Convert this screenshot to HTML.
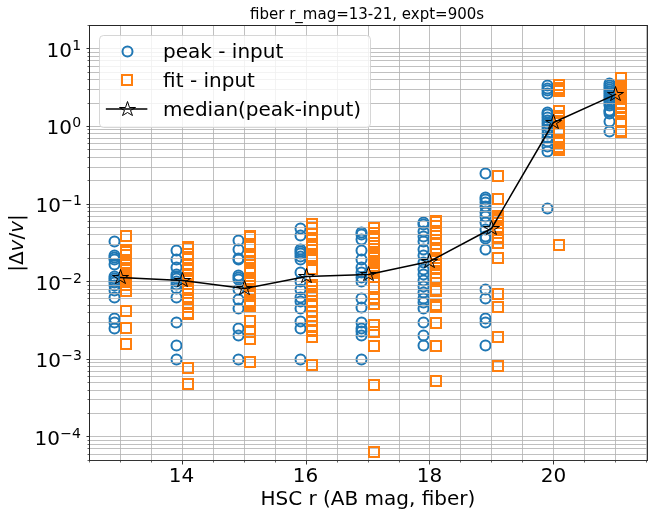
<!DOCTYPE html>
<html lang="en"><head><meta charset="utf-8"><title>fiber r_mag=13-21, expt=900s</title>
<style>html,body{margin:0;padding:0;background:#fff}body{width:653px;height:516px;overflow:hidden}svg text{white-space:pre}</style>
</head><body>
<svg width="653" height="516" viewBox="0 0 653 516" style="display:block" font-family="'DejaVu Sans','Liberation Sans',sans-serif">
<rect width="653" height="516" fill="#fff"/>
<g fill="none" stroke="#1f77b4" stroke-width="2">
<circle cx="114.5" cy="241.5" r="5"/>
<circle cx="114.5" cy="255.5" r="5"/>
<circle cx="114.5" cy="257.5" r="5"/>
<circle cx="114.5" cy="259.5" r="5"/>
<circle cx="114.5" cy="264.5" r="5"/>
<circle cx="114.5" cy="276.5" r="5"/>
<circle cx="114.5" cy="278.5" r="5"/>
<circle cx="114.5" cy="280.5" r="5"/>
<circle cx="114.5" cy="282.5" r="5"/>
<circle cx="114.5" cy="285.5" r="5"/>
<circle cx="114.5" cy="290.5" r="5"/>
<circle cx="114.5" cy="297.5" r="5"/>
<circle cx="114.5" cy="318.5" r="5"/>
<circle cx="114.5" cy="322.5" r="5"/>
<circle cx="114.5" cy="328.5" r="5"/>
<circle cx="176.5" cy="250.5" r="5"/>
<circle cx="176.5" cy="259.5" r="5"/>
<circle cx="176.5" cy="267.5" r="5"/>
<circle cx="176.5" cy="274.5" r="5"/>
<circle cx="176.5" cy="276.5" r="5"/>
<circle cx="176.5" cy="278.5" r="5"/>
<circle cx="176.5" cy="281.5" r="5"/>
<circle cx="176.5" cy="284.5" r="5"/>
<circle cx="176.5" cy="288.5" r="5"/>
<circle cx="176.5" cy="297.5" r="5"/>
<circle cx="176.5" cy="322.5" r="5"/>
<circle cx="176.5" cy="345.5" r="5"/>
<circle cx="176.5" cy="359.5" r="5"/>
<circle cx="238.5" cy="240.5" r="5"/>
<circle cx="238.5" cy="249.5" r="5"/>
<circle cx="238.5" cy="258.5" r="5"/>
<circle cx="238.5" cy="259.5" r="5"/>
<circle cx="238.5" cy="275.5" r="5"/>
<circle cx="238.5" cy="277.5" r="5"/>
<circle cx="238.5" cy="279.5" r="5"/>
<circle cx="238.5" cy="289.5" r="5"/>
<circle cx="238.5" cy="299.5" r="5"/>
<circle cx="238.5" cy="308.5" r="5"/>
<circle cx="238.5" cy="328.5" r="5"/>
<circle cx="238.5" cy="335.5" r="5"/>
<circle cx="238.5" cy="359.5" r="5"/>
<circle cx="300.5" cy="228.5" r="5"/>
<circle cx="300.5" cy="235.5" r="5"/>
<circle cx="300.5" cy="249.5" r="5"/>
<circle cx="300.5" cy="251.5" r="5"/>
<circle cx="300.5" cy="253.5" r="5"/>
<circle cx="300.5" cy="256.5" r="5"/>
<circle cx="300.5" cy="259.5" r="5"/>
<circle cx="300.5" cy="272.5" r="5"/>
<circle cx="300.5" cy="281.5" r="5"/>
<circle cx="300.5" cy="289.5" r="5"/>
<circle cx="300.5" cy="297.5" r="5"/>
<circle cx="300.5" cy="301.5" r="5"/>
<circle cx="300.5" cy="308.5" r="5"/>
<circle cx="300.5" cy="321.5" r="5"/>
<circle cx="300.5" cy="328.5" r="5"/>
<circle cx="300.5" cy="359.5" r="5"/>
<circle cx="361.5" cy="232.5" r="5"/>
<circle cx="361.5" cy="234.5" r="5"/>
<circle cx="361.5" cy="239.5" r="5"/>
<circle cx="361.5" cy="250.5" r="5"/>
<circle cx="361.5" cy="259.5" r="5"/>
<circle cx="361.5" cy="267.5" r="5"/>
<circle cx="361.5" cy="272.5" r="5"/>
<circle cx="361.5" cy="277.5" r="5"/>
<circle cx="361.5" cy="281.5" r="5"/>
<circle cx="361.5" cy="298.5" r="5"/>
<circle cx="361.5" cy="307.5" r="5"/>
<circle cx="361.5" cy="322.5" r="5"/>
<circle cx="361.5" cy="328.5" r="5"/>
<circle cx="361.5" cy="331.5" r="5"/>
<circle cx="361.5" cy="335.5" r="5"/>
<circle cx="361.5" cy="359.5" r="5"/>
<circle cx="423.5" cy="222.5" r="5"/>
<circle cx="423.5" cy="224.5" r="5"/>
<circle cx="423.5" cy="231.5" r="5"/>
<circle cx="423.5" cy="236.5" r="5"/>
<circle cx="423.5" cy="241.5" r="5"/>
<circle cx="423.5" cy="249.5" r="5"/>
<circle cx="423.5" cy="255.5" r="5"/>
<circle cx="423.5" cy="262.5" r="5"/>
<circle cx="423.5" cy="269.5" r="5"/>
<circle cx="423.5" cy="274.5" r="5"/>
<circle cx="423.5" cy="280.5" r="5"/>
<circle cx="423.5" cy="286.5" r="5"/>
<circle cx="423.5" cy="292.5" r="5"/>
<circle cx="423.5" cy="298.5" r="5"/>
<circle cx="423.5" cy="302.5" r="5"/>
<circle cx="423.5" cy="308.5" r="5"/>
<circle cx="423.5" cy="322.5" r="5"/>
<circle cx="423.5" cy="335.5" r="5"/>
<circle cx="423.5" cy="345.5" r="5"/>
<circle cx="485.5" cy="173.5" r="5"/>
<circle cx="485.5" cy="197.5" r="5"/>
<circle cx="485.5" cy="199.5" r="5"/>
<circle cx="485.5" cy="202.5" r="5"/>
<circle cx="485.5" cy="206.5" r="5"/>
<circle cx="485.5" cy="212.5" r="5"/>
<circle cx="485.5" cy="216.5" r="5"/>
<circle cx="485.5" cy="222.5" r="5"/>
<circle cx="485.5" cy="229.5" r="5"/>
<circle cx="485.5" cy="236.5" r="5"/>
<circle cx="485.5" cy="238.5" r="5"/>
<circle cx="485.5" cy="249.5" r="5"/>
<circle cx="485.5" cy="289.5" r="5"/>
<circle cx="485.5" cy="298.5" r="5"/>
<circle cx="485.5" cy="318.5" r="5"/>
<circle cx="485.5" cy="322.5" r="5"/>
<circle cx="485.5" cy="345.5" r="5"/>
<circle cx="547.5" cy="85.5" r="5"/>
<circle cx="547.5" cy="88.5" r="5"/>
<circle cx="547.5" cy="90.5" r="5"/>
<circle cx="547.5" cy="93.5" r="5"/>
<circle cx="547.5" cy="112.5" r="5"/>
<circle cx="547.5" cy="114.5" r="5"/>
<circle cx="547.5" cy="117.5" r="5"/>
<circle cx="547.5" cy="120.5" r="5"/>
<circle cx="547.5" cy="123.5" r="5"/>
<circle cx="547.5" cy="126.5" r="5"/>
<circle cx="547.5" cy="129.5" r="5"/>
<circle cx="547.5" cy="133.5" r="5"/>
<circle cx="547.5" cy="137.5" r="5"/>
<circle cx="547.5" cy="141.5" r="5"/>
<circle cx="547.5" cy="146.5" r="5"/>
<circle cx="547.5" cy="151.5" r="5"/>
<circle cx="547.5" cy="208.5" r="5"/>
<circle cx="609.5" cy="83.5" r="5"/>
<circle cx="609.5" cy="85.5" r="5"/>
<circle cx="609.5" cy="87.5" r="5"/>
<circle cx="609.5" cy="89.5" r="5"/>
<circle cx="609.5" cy="91.5" r="5"/>
<circle cx="609.5" cy="93.5" r="5"/>
<circle cx="609.5" cy="95.5" r="5"/>
<circle cx="609.5" cy="97.5" r="5"/>
<circle cx="609.5" cy="99.5" r="5"/>
<circle cx="609.5" cy="101.5" r="5"/>
<circle cx="609.5" cy="103.5" r="5"/>
<circle cx="609.5" cy="105.5" r="5"/>
<circle cx="609.5" cy="110.5" r="5"/>
<circle cx="609.5" cy="111.5" r="5"/>
<circle cx="609.5" cy="113.5" r="5"/>
<circle cx="609.5" cy="121.5" r="5"/>
<circle cx="609.5" cy="131.5" r="5"/>
</g>
<g stroke="#b0b0b0" stroke-opacity="0.8" stroke-width="1">
<path d="M120.5 26V460"/>
<path d="M151.5 26V460"/>
<path d="M182.5 26V460"/>
<path d="M213.5 26V460"/>
<path d="M244.5 26V460"/>
<path d="M275.5 26V460"/>
<path d="M306.5 26V460"/>
<path d="M337.5 26V460"/>
<path d="M368.5 26V460"/>
<path d="M399.5 26V460"/>
<path d="M429.5 26V460"/>
<path d="M460.5 26V460"/>
<path d="M491.5 26V460"/>
<path d="M522.5 26V460"/>
<path d="M553.5 26V460"/>
<path d="M584.5 26V460"/>
<path d="M615.5 26V460"/>
<path d="M646.5 26V460"/>
<path d="M90 454.5H647"/>
<path d="M90 448.5H647"/>
<path d="M90 444.5H647"/>
<path d="M90 440.5H647"/>
<path d="M90 436.5H647"/>
<path d="M90 413.5H647"/>
<path d="M90 399.5H647"/>
<path d="M90 390.5H647"/>
<path d="M90 382.5H647"/>
<path d="M90 376.5H647"/>
<path d="M90 371.5H647"/>
<path d="M90 366.5H647"/>
<path d="M90 362.5H647"/>
<path d="M90 359.5H647"/>
<path d="M90 335.5H647"/>
<path d="M90 322.5H647"/>
<path d="M90 312.5H647"/>
<path d="M90 305.5H647"/>
<path d="M90 298.5H647"/>
<path d="M90 293.5H647"/>
<path d="M90 289.5H647"/>
<path d="M90 285.5H647"/>
<path d="M90 281.5H647"/>
<path d="M90 258.5H647"/>
<path d="M90 244.5H647"/>
<path d="M90 234.5H647"/>
<path d="M90 227.5H647"/>
<path d="M90 221.5H647"/>
<path d="M90 216.5H647"/>
<path d="M90 211.5H647"/>
<path d="M90 207.5H647"/>
<path d="M90 204.5H647"/>
<path d="M90 180.5H647"/>
<path d="M90 167.5H647"/>
<path d="M90 157.5H647"/>
<path d="M90 149.5H647"/>
<path d="M90 143.5H647"/>
<path d="M90 138.5H647"/>
<path d="M90 133.5H647"/>
<path d="M90 129.5H647"/>
<path d="M90 126.5H647"/>
<path d="M90 103.5H647"/>
<path d="M90 89.5H647"/>
<path d="M90 79.5H647"/>
<path d="M90 72.5H647"/>
<path d="M90 66.5H647"/>
<path d="M90 60.5H647"/>
<path d="M90 56.5H647"/>
<path d="M90 52.5H647"/>
<path d="M90 48.5H647"/>
</g>
<g fill="none" stroke="#ff7f0e" stroke-width="2">
<rect x="121" y="231" width="10" height="10"/>
<rect x="121" y="245.0" width="10" height="10"/>
<rect x="121" y="247.0" width="10" height="10"/>
<rect x="121" y="250.0" width="10" height="10"/>
<rect x="121" y="258.0" width="10" height="10"/>
<rect x="121" y="263.0" width="10" height="10"/>
<rect x="121" y="265.0" width="10" height="10"/>
<rect x="121" y="268.0" width="10" height="10"/>
<rect x="121" y="270.0" width="10" height="10"/>
<rect x="121" y="272.0" width="10" height="10"/>
<rect x="121" y="274.0" width="10" height="10"/>
<rect x="121" y="277.0" width="10" height="10"/>
<rect x="121" y="280.0" width="10" height="10"/>
<rect x="121" y="286.0" width="10" height="10"/>
<rect x="121" y="306" width="10" height="10"/>
<rect x="121" y="323" width="10" height="10"/>
<rect x="121" y="339" width="10" height="10"/>
<rect x="183" y="242.0" width="10" height="10"/>
<rect x="183" y="243.0" width="10" height="10"/>
<rect x="183" y="249.0" width="10" height="10"/>
<rect x="183" y="253.0" width="10" height="10"/>
<rect x="183" y="254.0" width="10" height="10"/>
<rect x="183" y="260.0" width="10" height="10"/>
<rect x="183" y="265.0" width="10" height="10"/>
<rect x="183" y="269.0" width="10" height="10"/>
<rect x="183" y="270.0" width="10" height="10"/>
<rect x="183" y="273.0" width="10" height="10"/>
<rect x="183" y="275.0" width="10" height="10"/>
<rect x="183" y="276.0" width="10" height="10"/>
<rect x="183" y="279.0" width="10" height="10"/>
<rect x="183" y="285.0" width="10" height="10"/>
<rect x="183" y="293.0" width="10" height="10"/>
<rect x="183" y="294.0" width="10" height="10"/>
<rect x="183" y="298.0" width="10" height="10"/>
<rect x="183" y="302.0" width="10" height="10"/>
<rect x="183" y="308.0" width="10" height="10"/>
<rect x="183" y="309.0" width="10" height="10"/>
<rect x="183" y="363" width="10" height="10"/>
<rect x="183" y="379" width="10" height="10"/>
<rect x="245" y="231.0" width="10" height="10"/>
<rect x="245" y="232.0" width="10" height="10"/>
<rect x="245" y="239.0" width="10" height="10"/>
<rect x="245" y="242.0" width="10" height="10"/>
<rect x="245" y="250.0" width="10" height="10"/>
<rect x="245" y="256.0" width="10" height="10"/>
<rect x="245" y="257.0" width="10" height="10"/>
<rect x="245" y="263.0" width="10" height="10"/>
<rect x="245" y="264.0" width="10" height="10"/>
<rect x="245" y="266.0" width="10" height="10"/>
<rect x="245" y="268.0" width="10" height="10"/>
<rect x="245" y="274.0" width="10" height="10"/>
<rect x="245" y="275.0" width="10" height="10"/>
<rect x="245" y="281.0" width="10" height="10"/>
<rect x="245" y="285.0" width="10" height="10"/>
<rect x="245" y="287.0" width="10" height="10"/>
<rect x="245" y="289.0" width="10" height="10"/>
<rect x="245" y="296.0" width="10" height="10"/>
<rect x="245" y="298.0" width="10" height="10"/>
<rect x="245" y="299.0" width="10" height="10"/>
<rect x="245" y="301.0" width="10" height="10"/>
<rect x="245" y="316" width="10" height="10"/>
<rect x="245" y="327" width="10" height="10"/>
<rect x="245" y="334" width="10" height="10"/>
<rect x="245" y="357" width="10" height="10"/>
<rect x="307" y="219.0" width="10" height="10"/>
<rect x="307" y="223.0" width="10" height="10"/>
<rect x="307" y="229.0" width="10" height="10"/>
<rect x="307" y="235.0" width="10" height="10"/>
<rect x="307" y="239.0" width="10" height="10"/>
<rect x="307" y="241.0" width="10" height="10"/>
<rect x="307" y="242.0" width="10" height="10"/>
<rect x="307" y="251.0" width="10" height="10"/>
<rect x="307" y="252.0" width="10" height="10"/>
<rect x="307" y="253.0" width="10" height="10"/>
<rect x="307" y="255.0" width="10" height="10"/>
<rect x="307" y="264.0" width="10" height="10"/>
<rect x="307" y="280.0" width="10" height="10"/>
<rect x="307" y="282.0" width="10" height="10"/>
<rect x="307" y="286.0" width="10" height="10"/>
<rect x="307" y="289.0" width="10" height="10"/>
<rect x="307" y="296.0" width="10" height="10"/>
<rect x="307" y="301.0" width="10" height="10"/>
<rect x="307" y="306.0" width="10" height="10"/>
<rect x="307" y="307.0" width="10" height="10"/>
<rect x="307" y="316.0" width="10" height="10"/>
<rect x="307" y="321.0" width="10" height="10"/>
<rect x="307" y="325.0" width="10" height="10"/>
<rect x="307" y="326.0" width="10" height="10"/>
<rect x="307" y="332.0" width="10" height="10"/>
<rect x="307" y="360" width="10" height="10"/>
<rect x="369" y="223.0" width="10" height="10"/>
<rect x="369" y="228.0" width="10" height="10"/>
<rect x="369" y="231.0" width="10" height="10"/>
<rect x="369" y="234.0" width="10" height="10"/>
<rect x="369" y="241.0" width="10" height="10"/>
<rect x="369" y="247.0" width="10" height="10"/>
<rect x="369" y="249.0" width="10" height="10"/>
<rect x="369" y="251.0" width="10" height="10"/>
<rect x="369" y="253.0" width="10" height="10"/>
<rect x="369" y="256.0" width="10" height="10"/>
<rect x="369" y="261.0" width="10" height="10"/>
<rect x="369" y="263.0" width="10" height="10"/>
<rect x="369" y="265.0" width="10" height="10"/>
<rect x="369" y="267.0" width="10" height="10"/>
<rect x="369" y="268.0" width="10" height="10"/>
<rect x="369" y="272.0" width="10" height="10"/>
<rect x="369" y="282.0" width="10" height="10"/>
<rect x="369" y="293.0" width="10" height="10"/>
<rect x="369" y="294.0" width="10" height="10"/>
<rect x="369" y="299.0" width="10" height="10"/>
<rect x="369" y="320" width="10" height="10"/>
<rect x="369" y="327" width="10" height="10"/>
<rect x="369" y="341" width="10" height="10"/>
<rect x="369" y="380" width="10" height="10"/>
<rect x="369" y="447" width="10" height="10"/>
<rect x="431" y="216.0" width="10" height="10"/>
<rect x="431" y="217.0" width="10" height="10"/>
<rect x="431" y="221.0" width="10" height="10"/>
<rect x="431" y="228.0" width="10" height="10"/>
<rect x="431" y="235.0" width="10" height="10"/>
<rect x="431" y="239.0" width="10" height="10"/>
<rect x="431" y="243.0" width="10" height="10"/>
<rect x="431" y="244.0" width="10" height="10"/>
<rect x="431" y="249.0" width="10" height="10"/>
<rect x="431" y="256.0" width="10" height="10"/>
<rect x="431" y="260.0" width="10" height="10"/>
<rect x="431" y="263.0" width="10" height="10"/>
<rect x="431" y="268.0" width="10" height="10"/>
<rect x="431" y="273.0" width="10" height="10"/>
<rect x="431" y="274.0" width="10" height="10"/>
<rect x="431" y="285.0" width="10" height="10"/>
<rect x="431" y="286.0" width="10" height="10"/>
<rect x="431" y="300" width="10" height="10"/>
<rect x="431" y="302" width="10" height="10"/>
<rect x="431" y="318" width="10" height="10"/>
<rect x="431" y="341" width="10" height="10"/>
<rect x="431" y="376" width="10" height="10"/>
<rect x="493" y="171" width="10" height="10"/>
<rect x="493" y="194" width="10" height="10"/>
<rect x="493" y="211.0" width="10" height="10"/>
<rect x="493" y="213.0" width="10" height="10"/>
<rect x="493" y="215.0" width="10" height="10"/>
<rect x="493" y="218.0" width="10" height="10"/>
<rect x="493" y="224.0" width="10" height="10"/>
<rect x="493" y="225.0" width="10" height="10"/>
<rect x="493" y="232.0" width="10" height="10"/>
<rect x="493" y="233.0" width="10" height="10"/>
<rect x="493" y="238.0" width="10" height="10"/>
<rect x="493" y="253" width="10" height="10"/>
<rect x="493" y="289" width="10" height="10"/>
<rect x="493" y="302" width="10" height="10"/>
<rect x="493" y="332" width="10" height="10"/>
<rect x="493" y="361" width="10" height="10"/>
<rect x="554" y="80.0" width="10" height="10"/>
<rect x="554" y="83.0" width="10" height="10"/>
<rect x="554" y="84.0" width="10" height="10"/>
<rect x="554" y="86.0" width="10" height="10"/>
<rect x="554" y="106.0" width="10" height="10"/>
<rect x="554" y="111.0" width="10" height="10"/>
<rect x="554" y="113.0" width="10" height="10"/>
<rect x="554" y="116.0" width="10" height="10"/>
<rect x="554" y="118.0" width="10" height="10"/>
<rect x="554" y="125.0" width="10" height="10"/>
<rect x="554" y="136.0" width="10" height="10"/>
<rect x="554" y="137.0" width="10" height="10"/>
<rect x="554" y="138.0" width="10" height="10"/>
<rect x="554" y="142.0" width="10" height="10"/>
<rect x="554" y="143.0" width="10" height="10"/>
<rect x="554" y="145.0" width="10" height="10"/>
<rect x="554" y="240" width="10" height="10"/>
<rect x="616" y="73.0" width="10" height="10"/>
<rect x="616" y="81.0" width="10" height="10"/>
<rect x="616" y="85.0" width="10" height="10"/>
<rect x="616" y="87.0" width="10" height="10"/>
<rect x="616" y="89.0" width="10" height="10"/>
<rect x="616" y="90.0" width="10" height="10"/>
<rect x="616" y="93.0" width="10" height="10"/>
<rect x="616" y="94.0" width="10" height="10"/>
<rect x="616" y="102.0" width="10" height="10"/>
<rect x="616" y="103.0" width="10" height="10"/>
<rect x="616" y="108.0" width="10" height="10"/>
<rect x="616" y="109.0" width="10" height="10"/>
<rect x="616" y="116.0" width="10" height="10"/>
<rect x="616" y="126.0" width="10" height="10"/>
<rect x="616" y="127.0" width="10" height="10"/>
</g>
<polyline points="120.5,277.5 182.5,280.5 244.5,288.5 306.5,276.5 368.5,274.5 429.5,261.5 491.5,228.5 553.5,122.5 615.5,94.5" fill="none" stroke="#000" stroke-width="1.5" stroke-linejoin="round" stroke-linecap="square"/>
<g fill="none" stroke="#000" stroke-width="1" stroke-linejoin="bevel">
<path d="M120.5,269.5L122.5,275.5L128.5,275.5L123.5,278.5L125.5,283.5L120.5,280.5L115.5,283.5L117.5,278.5L112.5,275.5L118.5,275.5Z"/>
<path d="M182.5,272.5L184.5,278.5L190.5,278.5L185.5,281.5L187.5,286.5L182.5,283.5L177.5,286.5L179.5,281.5L174.5,278.5L180.5,278.5Z"/>
<path d="M244.5,280.5L246.5,286.5L252.5,286.5L247.5,289.5L249.5,294.5L244.5,291.5L239.5,294.5L241.5,289.5L236.5,286.5L242.5,286.5Z"/>
<path d="M306.5,268.5L308.5,274.5L314.5,274.5L309.5,277.5L311.5,282.5L306.5,279.5L301.5,282.5L303.5,277.5L298.5,274.5L304.5,274.5Z"/>
<path d="M368.5,266.5L370.5,272.5L376.5,272.5L371.5,275.5L373.5,280.5L368.5,277.5L363.5,280.5L365.5,275.5L360.5,272.5L366.5,272.5Z"/>
<path d="M429.5,253.5L431.5,259.5L437.5,259.5L432.5,262.5L434.5,267.5L429.5,264.5L424.5,267.5L426.5,262.5L421.5,259.5L427.5,259.5Z"/>
<path d="M491.5,220.5L493.5,226.5L499.5,226.5L494.5,229.5L496.5,234.5L491.5,231.5L486.5,234.5L488.5,229.5L483.5,226.5L489.5,226.5Z"/>
<path d="M553.5,114.5L555.5,120.5L561.5,120.5L556.5,123.5L558.5,128.5L553.5,125.5L548.5,128.5L550.5,123.5L545.5,120.5L551.5,120.5Z"/>
<path d="M615.5,86.5L617.5,92.5L623.5,92.5L618.5,95.5L620.5,100.5L615.5,97.5L610.5,100.5L612.5,95.5L607.5,92.5L613.5,92.5Z"/>
</g>
<g fill="#000">
<rect x="89" y="25" width="1" height="436" fill-opacity="0.85"/>
<rect x="647" y="25" width="1" height="436" fill-opacity="0.8"/>
<rect x="90" y="25" width="557" height="1" fill-opacity="0.85"/>
<rect x="90" y="460" width="557" height="1" fill-opacity="0.8"/>
</g>
<g stroke="#000" stroke-width="1">
<path d="M89.5 461V462.5" stroke-opacity="0.6"/>
<path d="M120.5 461V462.5" stroke-opacity="0.6"/>
<path d="M151.5 461V462.5" stroke-opacity="0.6"/>
<path d="M182.5 461V464.5" stroke-opacity="0.8"/>
<path d="M213.5 461V462.5" stroke-opacity="0.6"/>
<path d="M244.5 461V462.5" stroke-opacity="0.6"/>
<path d="M275.5 461V462.5" stroke-opacity="0.6"/>
<path d="M306.5 461V464.5" stroke-opacity="0.8"/>
<path d="M337.5 461V462.5" stroke-opacity="0.6"/>
<path d="M368.5 461V462.5" stroke-opacity="0.6"/>
<path d="M399.5 461V462.5" stroke-opacity="0.6"/>
<path d="M429.5 461V464.5" stroke-opacity="0.8"/>
<path d="M460.5 461V462.5" stroke-opacity="0.6"/>
<path d="M491.5 461V462.5" stroke-opacity="0.6"/>
<path d="M522.5 461V462.5" stroke-opacity="0.6"/>
<path d="M553.5 461V464.5" stroke-opacity="0.8"/>
<path d="M584.5 461V462.5" stroke-opacity="0.6"/>
<path d="M615.5 461V462.5" stroke-opacity="0.6"/>
<path d="M646.5 461V462.5" stroke-opacity="0.6"/>
<path d="M87.5 454.5H89" stroke-opacity="0.6"/>
<path d="M87.5 448.5H89" stroke-opacity="0.6"/>
<path d="M87.5 444.5H89" stroke-opacity="0.6"/>
<path d="M87.5 440.5H89" stroke-opacity="0.6"/>
<path d="M86.5 436.5H89" stroke-opacity="0.8"/>
<path d="M87.5 413.5H89" stroke-opacity="0.6"/>
<path d="M87.5 399.5H89" stroke-opacity="0.6"/>
<path d="M87.5 390.5H89" stroke-opacity="0.6"/>
<path d="M87.5 382.5H89" stroke-opacity="0.6"/>
<path d="M87.5 376.5H89" stroke-opacity="0.6"/>
<path d="M87.5 371.5H89" stroke-opacity="0.6"/>
<path d="M87.5 366.5H89" stroke-opacity="0.6"/>
<path d="M87.5 362.5H89" stroke-opacity="0.6"/>
<path d="M86.5 359.5H89" stroke-opacity="0.8"/>
<path d="M87.5 335.5H89" stroke-opacity="0.6"/>
<path d="M87.5 322.5H89" stroke-opacity="0.6"/>
<path d="M87.5 312.5H89" stroke-opacity="0.6"/>
<path d="M87.5 305.5H89" stroke-opacity="0.6"/>
<path d="M87.5 298.5H89" stroke-opacity="0.6"/>
<path d="M87.5 293.5H89" stroke-opacity="0.6"/>
<path d="M87.5 289.5H89" stroke-opacity="0.6"/>
<path d="M87.5 285.5H89" stroke-opacity="0.6"/>
<path d="M86.5 281.5H89" stroke-opacity="0.8"/>
<path d="M87.5 258.5H89" stroke-opacity="0.6"/>
<path d="M87.5 244.5H89" stroke-opacity="0.6"/>
<path d="M87.5 234.5H89" stroke-opacity="0.6"/>
<path d="M87.5 227.5H89" stroke-opacity="0.6"/>
<path d="M87.5 221.5H89" stroke-opacity="0.6"/>
<path d="M87.5 216.5H89" stroke-opacity="0.6"/>
<path d="M87.5 211.5H89" stroke-opacity="0.6"/>
<path d="M87.5 207.5H89" stroke-opacity="0.6"/>
<path d="M86.5 204.5H89" stroke-opacity="0.8"/>
<path d="M87.5 180.5H89" stroke-opacity="0.6"/>
<path d="M87.5 167.5H89" stroke-opacity="0.6"/>
<path d="M87.5 157.5H89" stroke-opacity="0.6"/>
<path d="M87.5 149.5H89" stroke-opacity="0.6"/>
<path d="M87.5 143.5H89" stroke-opacity="0.6"/>
<path d="M87.5 138.5H89" stroke-opacity="0.6"/>
<path d="M87.5 133.5H89" stroke-opacity="0.6"/>
<path d="M87.5 129.5H89" stroke-opacity="0.6"/>
<path d="M86.5 126.5H89" stroke-opacity="0.8"/>
<path d="M87.5 103.5H89" stroke-opacity="0.6"/>
<path d="M87.5 89.5H89" stroke-opacity="0.6"/>
<path d="M87.5 79.5H89" stroke-opacity="0.6"/>
<path d="M87.5 72.5H89" stroke-opacity="0.6"/>
<path d="M87.5 66.5H89" stroke-opacity="0.6"/>
<path d="M87.5 60.5H89" stroke-opacity="0.6"/>
<path d="M87.5 56.5H89" stroke-opacity="0.6"/>
<path d="M87.5 52.5H89" stroke-opacity="0.6"/>
<path d="M86.5 48.5H89" stroke-opacity="0.8"/>
<path d="M87.5 25.5H89" stroke-opacity="0.6"/>
<path d="M87.5 460.5H89" stroke-opacity="0.6"/>
</g>
<text x="367.1" y="18.6" font-size="15" text-anchor="middle">fiber r_mag=13-21, expt=900s</text>
<text x="367.9" y="504.6" font-size="20" text-anchor="middle">HSC r (AB mag, fiber)</text>
<text x="181.6" y="482.0" font-size="20" text-anchor="middle">14</text>
<text x="305.6" y="482.0" font-size="20" text-anchor="middle">16</text>
<text x="429.6" y="482.0" font-size="20" text-anchor="middle">18</text>
<text x="553.6" y="482.0" font-size="20" text-anchor="middle">20</text>
<text x="46.60" y="56.98" font-size="20">10</text><text x="72.24" y="50.32" font-size="14">1</text>
<text x="46.60" y="133.67" font-size="20">10</text><text x="72.24" y="127.01" font-size="14">0</text>
<text x="35.60" y="212.36" font-size="20">10</text><text x="61.24" y="204.70" font-size="14">−1</text>
<text x="35.60" y="290.04" font-size="20">10</text><text x="61.24" y="283.38" font-size="14">−2</text>
<text x="35.60" y="366.73" font-size="20">10</text><text x="61.24" y="360.07" font-size="14">−3</text>
<text x="34.60" y="445.41" font-size="20">10</text><text x="60.24" y="437.75" font-size="14">−4</text>
<text transform="translate(23.0,243.0) rotate(-90)" font-size="20" text-anchor="middle">|Δ<tspan font-style="oblique">v</tspan>/<tspan font-style="oblique">v</tspan>|</text>
<rect x="99.5" y="35.5" width="271" height="92" rx="4" ry="4" fill="#fff" fill-opacity="0.8" stroke="#ccc" stroke-opacity="0.8" stroke-width="1"/>
<circle cx="127.5" cy="51.5" r="5" fill="none" stroke="#1f77b4" stroke-width="2"/>
<rect x="122" y="75" width="10" height="10" fill="none" stroke="#ff7f0e" stroke-width="2"/>
<path d="M106.6 109H146.6" stroke="#000" stroke-width="1.5" stroke-linecap="square"/>
<path d="M127.5,101.5L129.5,107.5L135.5,107.5L130.5,110.5L132.5,115.5L127.5,112.5L122.5,115.5L124.5,110.5L119.5,107.5L125.5,107.5Z" fill="none" stroke="#000" stroke-width="1" stroke-linejoin="bevel"/>
<text x="163.1" y="57.6" font-size="20">peak - input</text>
<text x="163.1" y="86.6" font-size="20">fit - input</text>
<text x="163.1" y="115.6" font-size="20">median(peak-input)</text>
</svg>
</body></html>
